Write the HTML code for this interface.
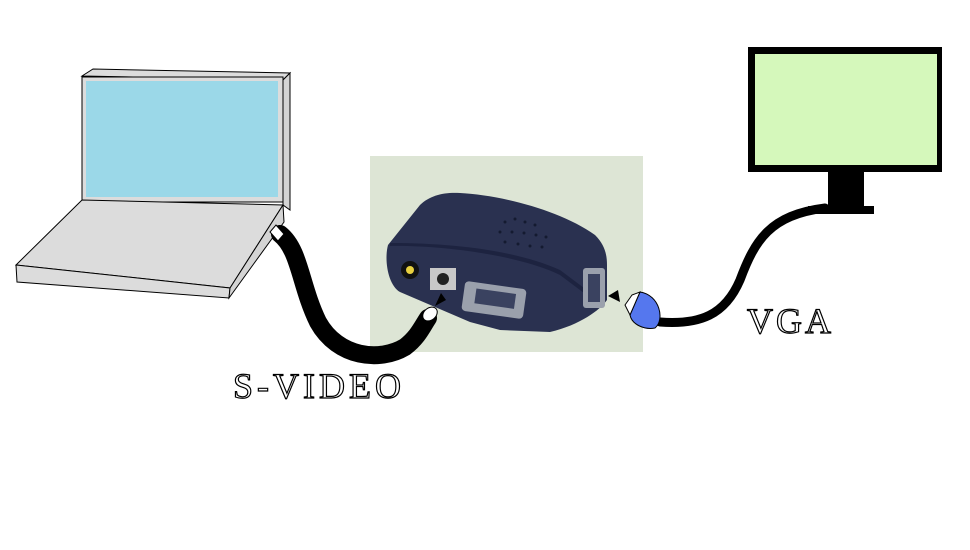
<!DOCTYPE html>
<html><head><style>
body{margin:0;width:970px;height:545px;background:#fff;overflow:hidden}
</style></head><body>
<svg width="970" height="545" viewBox="0 0 970 545" xmlns="http://www.w3.org/2000/svg">
<!-- laptop lid -->
<polygon points="82,76 93,69 290,73 283,80" fill="#dcdcdc" stroke="#000" stroke-width="1"/>
<polygon points="283,80 290,73 290,210 283,205" fill="#d4d4d4" stroke="#000" stroke-width="1"/>
<rect x="82" y="77" width="201" height="125" fill="#dcdcdc" stroke="#000" stroke-width="1"/>
<rect x="86" y="81" width="192" height="116" fill="#9bd8e8"/>
<!-- base -->
<polygon points="82,200 283,205 230,288 16,265" fill="#dcdcdc" stroke="#000" stroke-width="1"/>
<polygon points="16,265 230,288 229,298 17,282" fill="#dcdcdc" stroke="#000" stroke-width="1"/>
<polygon points="283,205 284,222 229,298 230,288" fill="#d4d4d4" stroke="#000" stroke-width="1"/>
<!-- photo -->
<rect x="370" y="156" width="273" height="196" fill="#dde5d5"/>
<path d="M388,245 L420,205 C430,195 445,192 460,193 C500,195 560,210 595,235 C605,245 607,255 607,265 L607,300 C600,310 580,325 550,332 L500,330 L470,322 L400,292 C388,285 384,260 388,245 Z" fill="#2a3150"/>
<path d="M390,246 C440,245 520,255 560,275 L600,305 L600,300 L560,270 C520,252 460,243 390,243 Z" fill="#1d2340"/>
<g fill="#141a30">
<circle cx="505" cy="222" r="1.5"/><circle cx="515" cy="219" r="1.5"/><circle cx="525" cy="222" r="1.5"/><circle cx="535" cy="225" r="1.5"/>
<circle cx="500" cy="232" r="1.5"/><circle cx="512" cy="232" r="1.5"/><circle cx="524" cy="233" r="1.5"/><circle cx="536" cy="235" r="1.5"/><circle cx="546" cy="237" r="1.5"/>
<circle cx="505" cy="242" r="1.5"/><circle cx="518" cy="244" r="1.5"/><circle cx="530" cy="246" r="1.5"/><circle cx="542" cy="247" r="1.5"/>
</g>
<circle cx="410" cy="270" r="9" fill="#111"/><circle cx="410" cy="270" r="4" fill="#e8d040"/>
<rect x="430" y="268" width="26" height="22" fill="#c8c8c8"/><circle cx="443" cy="279" r="6" fill="#222"/>
<rect x="463" y="285" width="62" height="30" rx="4" fill="#9aa0ac" transform="rotate(8 494 300)"/>
<rect x="475" y="291" width="40" height="15" fill="#3a4260" transform="rotate(8 494 300)"/>
<rect x="583" y="268" width="22" height="40" rx="3" fill="#9aa0ac"/>
<rect x="588" y="274" width="12" height="28" fill="#3a4260"/>
<!-- s-video cable -->
<path d="M280,234 C300,250 300,285 318,322 C338,358 380,362 405,347 C418,337 422,327 428,318" fill="none" stroke="#000" stroke-width="18" stroke-linecap="round"/>
<polygon points="270,232 276,225 284,234 278,241" fill="#fff" stroke="#000"/>
<ellipse cx="430" cy="314" rx="8" ry="6" fill="#fff" stroke="#000" transform="rotate(-40 430 314)"/>
<polygon points="435,306 441,293 446,300" fill="#000"/>
<!-- monitor -->
<rect x="748" y="47" width="194" height="125" fill="#000"/>
<rect x="755" y="54" width="182" height="111" fill="#d5f8bb"/>
<rect x="828" y="172" width="36" height="36" fill="#000"/>
<rect x="808" y="206" width="66" height="8" fill="#000"/>
<!-- vga cable -->
<path d="M825,208 C770,215 755,240 740,280 C725,315 700,325 660,322" fill="none" stroke="#000" stroke-width="9" stroke-linecap="round"/>
<path d="M640,292 C660,295 665,320 655,328 C645,330 632,325 630,315 Z" fill="#5577ee" stroke="#000" stroke-width="1"/>
<path d="M632,295 L640,292 L630,315 L625,305 Z" fill="#fff" stroke="#000"/>
<polygon points="608,296 618,290 620,302" fill="#000"/>
<!-- labels -->
<text x="233" y="398" font-family="Liberation Serif, serif" font-size="36" fill="#fff" stroke="#000" stroke-width="1.2" letter-spacing="4">S-VIDEO</text>
<text x="747" y="333" font-family="Liberation Serif, serif" font-size="36" fill="#fff" stroke="#000" stroke-width="1.2" letter-spacing="3">VGA</text>
</svg>
</body></html>
